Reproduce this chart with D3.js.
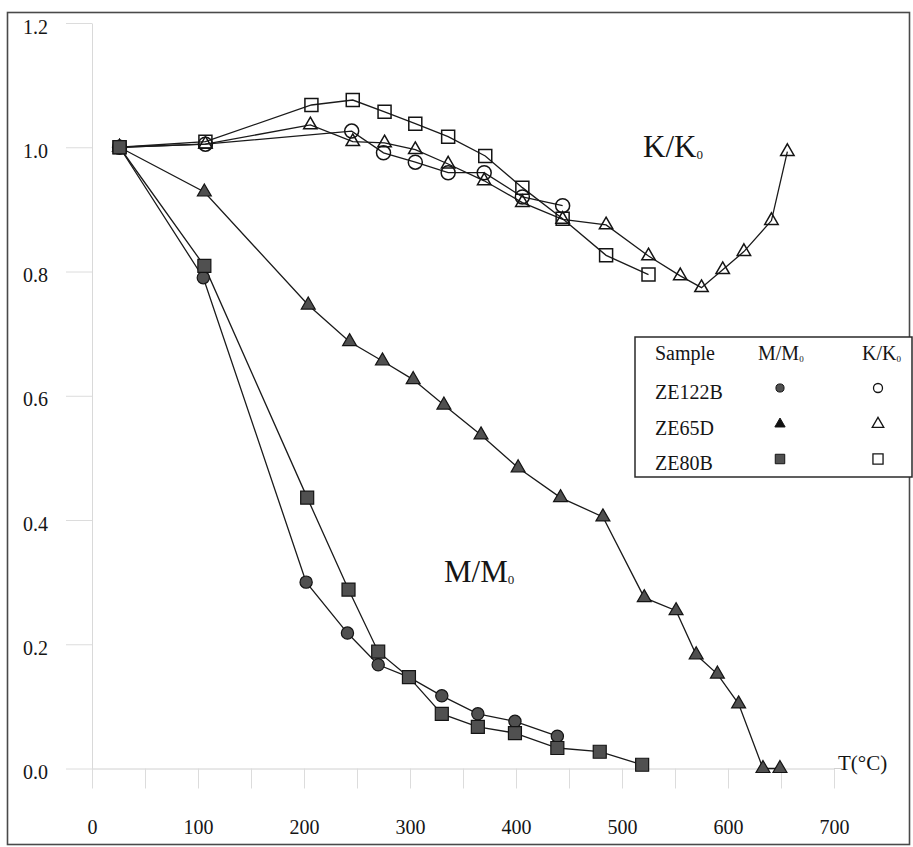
<!DOCTYPE html>
<html>
<head>
<meta charset="utf-8">
<script src="https://cdn.jsdelivr.net/npm/d3@7"></script>
<style>
  body { margin: 0; background: #fff; }
  svg { display: block; }
  svg text { font-family: "Liberation Serif", "Times New Roman", serif !important; fill: #151515; }
</style>
</head>
<body>
<svg id="chart" width="913" height="847"></svg>
<script>
// Thermal demagnetisation (M/M0) and susceptibility (K/K0) curves, three samples.
// Temperatures in °C, values normalised to the room-temperature reading.

// M/M0 — ZE122B
const m122T = [26, 105, 202, 241, 270, 299, 330, 364, 399, 439];
const m122V = [1.0, 0.79, 0.30, 0.218, 0.167, 0.147, 0.117, 0.088, 0.076, 0.052];

// M/M0 — ZE65D
const m65T = [26, 106, 204, 243, 274, 303, 332, 367, 402, 442, 482, 521, 551, 570, 590, 610, 633, 649];
const m65V = [1.0, 0.928, 0.746, 0.687, 0.656, 0.626, 0.585, 0.537, 0.484, 0.436, 0.405, 0.275, 0.254, 0.183, 0.152, 0.104, 0.0, 0.0];

// M/M0 — ZE80B
const m80T = [26, 106, 203, 242, 270, 299, 330, 364, 399, 439, 479, 519];
const m80V = [1.0, 0.809, 0.436, 0.288, 0.188, 0.147, 0.088, 0.067, 0.057, 0.033, 0.027, 0.006];

// K/K0 — ZE122B
const k122T = [26, 107, 245, 275, 305, 336, 370, 406, 444];
const k122V = [1.0, 1.005, 1.026, 0.991, 0.976, 0.959, 0.959, 0.920, 0.906];

// K/K0 — ZE65D
const k65T = [26, 107, 206, 246, 276, 305, 336, 370, 406, 444, 485, 525, 555, 575, 595, 615, 641, 656];
const k65V = [1.0, 1.005, 1.036, 1.009, 1.007, 0.996, 0.973, 0.946, 0.911, 0.884, 0.875, 0.825, 0.793, 0.774, 0.803, 0.832, 0.882, 0.993];

// K/K0 — ZE80B
const k80T = [26, 107, 207, 246, 276, 305, 336, 371, 406, 444, 485, 525];
const k80V = [1.0, 1.009, 1.068, 1.076, 1.057, 1.038, 1.017, 0.986, 0.935, 0.885, 0.826, 0.795];

// Axis ticks
const yTicks = [0, 0.2, 0.4, 0.6, 0.8, 1.0, 1.2];
const xMajor = [0, 100, 200, 300, 400, 500, 600, 700];
const xMinor = [50, 150, 250, 350, 450, 550, 650];

// Legend rows
const sampleNames = ["ZE122B", "ZE65D", "ZE80B"];

const serif = '"Liberation Serif", "Times New Roman", serif';
const svg = d3.select("#chart");

const x = d3.scaleLinear().domain([0, 700]).range([92, 834]);
const y = d3.scaleLinear().domain([0, 1.2]).range([768.5, 23]);

// outer frame
svg.append("rect")
  .attr("x", 7.5).attr("y", 12.5).attr("width", 902).attr("height", 832)
  .attr("fill", "none").attr("stroke", "#4a4a4a").attr("stroke-width", 1.6);

// y axis
const yAxis = d3.axisLeft(y).tickValues(yTicks).tickFormat(d3.format(".1f"))
  .tickSize(26).tickSizeOuter(0).tickPadding(18);
const gy = svg.append("g").attr("transform", `translate(${x(0)},0)`).call(yAxis)
  .attr("font-family", null);
gy.select(".domain").attr("stroke", "#d9d9d9");
gy.selectAll(".tick line").attr("stroke", "#dcdcdc");
gy.selectAll(".tick text").attr("font-size", 20).attr("fill", "#151515")
  .style("font-family", serif).attr("dy", "0.5em");

// x axis (zero line with ticks every 50 °C, labels every 100 °C)
const xAxis = d3.axisBottom(x).tickValues(xMajor.concat(xMinor).sort((a, b) => a - b))
  .tickFormat(d => (d % 100 === 0 ? d : ""))
  .tickSize(20).tickSizeOuter(0).tickPadding(31);
const gx = svg.append("g").attr("transform", `translate(0,${y(0)})`).call(xAxis)
  .attr("font-family", null);
gx.select(".domain").attr("stroke", "#d0d0d0");
gx.selectAll(".tick line").attr("stroke", "#dcdcdc");
gx.selectAll(".tick text").attr("font-size", 20).attr("fill", "#151515")
  .style("font-family", serif);
svg.append("line")
  .attr("x1", x(700)).attr("x2", x(708)).attr("y1", y(0)).attr("y2", y(0))
  .attr("stroke", "#d0d0d0");

// series
const mFill = "#505050";
const series = [
  { t: k122T, v: k122V, shape: d3.symbolCircle, size: 154, open: true },
  { t: k65T,  v: k65V,  shape: d3.symbolTriangle, size: 78, open: true },
  { t: k80T,  v: k80V,  shape: d3.symbolSquare, size: 169, open: true },
  { t: m122T, v: m122V, shape: d3.symbolCircle, size: 118, open: false },
  { t: m65T,  v: m65V,  shape: d3.symbolTriangle, size: 84, open: false },
  { t: m80T,  v: m80V,  shape: d3.symbolSquare, size: 169, open: false }
];

const line = d3.line().x(d => x(d[0])).y(d => y(d[1]));

series.forEach(s => {
  const pts = s.t.map((t, i) => [t, s.v[i]]);
  svg.append("path").datum(pts).attr("d", line)
    .attr("fill", "none").attr("stroke", "#1a1a1a").attr("stroke-width", 1.3);
});

series.forEach(s => {
  const pts = s.t.map((t, i) => [t, s.v[i]]);
  svg.append("g").selectAll("path").data(pts).join("path")
    .attr("d", d3.symbol().type(s.shape).size(s.size))
    .attr("transform", d => `translate(${x(d[0])},${y(d[1])})`)
    .attr("fill", s.open ? "none" : mFill)
    .attr("stroke", "#141414")
    .attr("stroke-width", s.open ? 1.5 : 1.2);
});

// curve labels
const kLab = svg.append("text").attr("x", 643).attr("y", 157).attr("font-size", 31);
kLab.append("tspan").text("K/K");
kLab.append("tspan").attr("font-size", 13).attr("dy", 2).text("0");

const mLab = svg.append("text").attr("x", 444).attr("y", 582).attr("font-size", 31);
mLab.append("tspan").text("M/M");
mLab.append("tspan").attr("font-size", 13).attr("dy", 2).text("0");

svg.append("text").attr("x", 838).attr("y", 770).attr("font-size", 21).text("T(°C)");

// legend
const lg = svg.append("g");
lg.append("rect").attr("x", 635).attr("y", 337).attr("width", 277).attr("height", 140)
  .attr("fill", "#fff").attr("stroke", "#2a2a2a").attr("stroke-width", 1.5);
lg.append("text").attr("x", 655).attr("y", 360).attr("font-size", 20).text("Sample");
const hM = lg.append("text").attr("x", 758).attr("y", 360).attr("font-size", 20);
hM.append("tspan").text("M/M");
hM.append("tspan").attr("font-size", 9).attr("dy", 2).text("0");
const hK = lg.append("text").attr("x", 862).attr("y", 360).attr("font-size", 20);
hK.append("tspan").text("K/K");
hK.append("tspan").attr("font-size", 9).attr("dy", 2).text("0");

const rowY = [391, 427, 462];
const lgShapes = [d3.symbolCircle, d3.symbolTriangle, d3.symbolSquare];
const lgSizes = [52, 46, 90];
sampleNames.forEach((name, i) => {
  lg.append("text").attr("x", 655).attr("y", rowY[i] + 8).attr("font-size", 20).text(name);
  lg.append("path").attr("d", d3.symbol().type(lgShapes[i]).size(lgSizes[i]))
    .attr("transform", `translate(780,${rowY[i] - 3})`)
    .attr("fill", i === 1 ? "#111" : mFill).attr("stroke", "#141414").attr("stroke-width", 1);
  lg.append("path").attr("d", d3.symbol().type(lgShapes[i]).size(lgSizes[i] + 12))
    .attr("transform", `translate(878,${rowY[i] - 3})`)
    .attr("fill", "none").attr("stroke", "#141414").attr("stroke-width", 1.3);
});
</script>
</body>
</html>
